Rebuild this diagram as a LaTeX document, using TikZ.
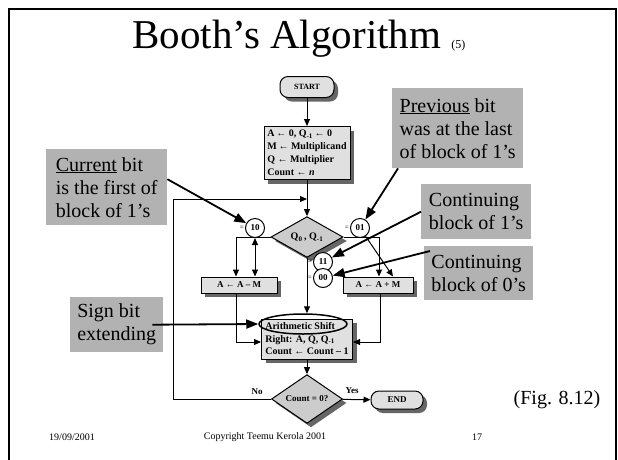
\documentclass[tikz,border=0pt]{standalone}
\usepackage{fontspec}
\setmainfont{Liberation Serif}
\usetikzlibrary{shapes.geometric,shadows,arrows.meta}

\begin{document}
\begin{tikzpicture}[x=1pt, y=-1pt, >={Triangle[length=7pt,width=6pt]},
  shd/.style={drop shadow={shadow xshift=4pt,shadow yshift=-4pt,opacity=1,fill=black!60}},
  flow/.style={draw, line width=1pt, fill=black!12, shd, font=\fontsize{9}{9}\selectfont\bfseries},
  dec/.style={flow, diamond, fill=black!20, inner sep=0pt},
  term/.style={flow, rounded corners=8pt, inner sep=0pt},
  bit/.style={circle, draw, line width=1pt, fill=white, minimum size=19pt, inner sep=0pt,
    font=\fontsize{9}{9}\selectfont\bfseries, label={[inner sep=1pt, font=\fontsize{7}{7}\selectfont]left:=}},
  note/.style={fill=black!30, align=left, font=\fontsize{20}{23}\selectfont, inner ysep=4pt, anchor=north west},
  line/.style={line width=1pt},
  callout/.style={line width=1.8pt, -{Triangle[length=12pt,width=9pt]}}]

\useasboundingbox (0,0) rectangle (618,459);
\draw[line width=2pt] (9,470) -- (9,9) -- (616,9) -- (616,470);

\node[anchor=base] (title) at (299,48) {\fontsize{41}{41}\selectfont Booth’s Algorithm \fontsize{12}{12}\selectfont(5)};

\node[term, minimum width=54pt, minimum height=21pt, font=\fontsize{8}{8}\selectfont\bfseries] (start) at (307,87) {START};
\node[flow, align=left, minimum width=86pt, minimum height=53pt, inner xsep=3pt, inner ysep=1pt,
  font=\fontsize{10}{13}\selectfont\bfseries] (init) at (307,153)
  {A\,← 0, Q\textsubscript{-1}\,← 0\\M\,← Multiplicand\\Q ← Multiplier\\Count ← \textit{n}};
\node[dec, minimum width=72pt, minimum height=30pt, font=\fontsize{10}{10}\selectfont\bfseries] (q) at (307,237) {Q\textsubscript{0}\,, Q\textsubscript{-1}};
\node[flow, minimum width=76pt, minimum height=16pt, inner sep=0pt] (amm) at (239,285) {A ← A – M};
\node[flow, minimum width=70pt, minimum height=16pt, inner sep=0pt] (apm) at (378,285) {A ← A + M};
\node[flow, align=left, minimum width=91pt, minimum height=40pt, inner xsep=3pt, inner ysep=1pt,
  font=\fontsize{10}{12.5}\selectfont\bfseries] (shift) at (307,339)
  {Arithmetic Shift\\Right: A, Q, Q\textsubscript{-1}\\Count ← Count – 1};
\node[draw, ellipse, line width=1.5pt, minimum width=88pt, minimum height=20pt] (ell) at (303,324) {};
\node[dec, minimum width=71pt, minimum height=28pt] (cnt) at (307,399) {Count = 0?};
\node[term, minimum width=52pt, minimum height=18pt] (end) at (397,400) {END};

\node[bit] (c10) at (255,228) {10};
\node[bit] (c01) at (360,228) {01};
\node[bit] (c11) at (323,262) {11};
\node[bit] (c00) at (323,278) {00};

\coordinate (join) at (307,199);
\coordinate (back) at (173,199);
\draw[line,->] (start) -- (init);
\draw[line,->] (init) -- (q);
\draw[line,->] (cnt.west) -| (back) -- (join);
\draw[line,->] (q.west) -| ([xshift=-3pt]amm.north);
\draw[line,->] (q.east) -| ([xshift=1pt]apm.north);
\draw[line,<->] (c10) -- (c10 |- amm.north);
\draw[line,->] (c01) -- ([xshift=15pt]apm.north);
\draw[line,->] (q) -- (q |- ell.north);
\draw[line,->] ([xshift=-3pt]amm.south) |- ([yshift=-3pt]shift.west);
\draw[line,->] ([xshift=2pt]apm.south) |- ([yshift=-3pt]shift.east);
\draw[line,->] (shift) -- (cnt);
\draw[line,->] (cnt) -- (end);
\node[font=\fontsize{9}{9}\selectfont\bfseries] (no) at (257,392) {No};
\node[font=\fontsize{9}{9}\selectfont\bfseries] (yes) at (352,391) {Yes};

\node[note, minimum width=121pt, minimum height=76pt] (cur) at (46,149) {\underline{Current} bit\\is the first of\\block of 1’s};
\node[note, minimum width=131pt, minimum height=80pt] (prev) at (392,88) {\underline{Previous} bit\\was at the last\\of block of 1’s};
\node[note, minimum width=110pt, minimum height=55pt] (cont1) at (421,184) {Continuing\\block of 1’s};
\node[note, minimum width=109pt, minimum height=54pt] (cont0) at (424,246) {Continuing\\block of 0’s};
\node[note, minimum width=93pt, minimum height=55pt] (sign) at (70,297) {Sign bit\\extending};

\draw[callout] ([yshift=8pt]cur.east) -- (c10);
\draw[callout] ([xshift=6pt]prev.south west) -- (c01);
\draw[callout] (cont1.west) -- (c11);
\draw[callout] ([shift={(6pt,-5pt)}]cont0.north west) -- (c00);
\draw[callout] ([xshift=-11pt]sign.east) -- (ell.west);

\node[font=\fontsize{20}{20}\selectfont] (fig) at (557,400) {(Fig. 8.12)};
\node[font=\fontsize{10}{10}\selectfont] (date) at (72,437) {19/09/2001};
\node[font=\fontsize{10}{10}\selectfont] (copy) at (265,437) {Copyright Teemu Kerola 2001};
\node[font=\fontsize{10}{10}\selectfont] (page) at (477,437) {17};
\end{tikzpicture}
\end{document}
